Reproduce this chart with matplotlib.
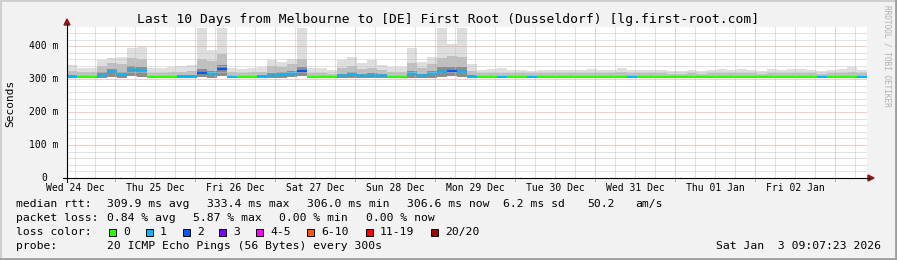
import numpy as np
import matplotlib.pyplot as plt
from matplotlib.patches import Rectangle, Polygon
from matplotlib.lines import Line2D
from matplotlib.transforms import blended_transform_factory

# data: 3-hour blocks starting Wed 24 Dec 09:36 (x in days from Wed 24 Dec 00:00)
start_day = 0.4
step_day = 0.125

med = [307, 306, 305, 309, 322, 312, 327, 325, 305, 305,
       305, 307, 307, 318, 316, 330, 306, 305, 305, 307,
       309, 312, 316, 324, 305, 305, 305, 309, 312, 310,
       310, 309, 305, 305, 314, 309, 314, 322, 325, 322,
       307, 305, 305, 306, 305, 305, 306, 305, 305, 305,
       305, 305, 305, 305, 305, 305, 306, 305, 305, 305,
       305, 305, 305, 305, 305, 305, 305, 305, 305, 305,
       305, 305, 305, 305, 305, 306, 305, 305, 305, 306]
low = [302, 302, 302, 303, 306, 303, 308, 306, 302, 302,
       302, 302, 302, 305, 304, 310, 302, 302, 302, 302,
       303, 304, 305, 308, 302, 302, 302, 303, 304, 303,
       303, 303, 302, 302, 304, 303, 304, 306, 308, 306,
       302, 302, 302, 302, 302, 302, 302, 302, 302, 302,
       302, 302, 302, 302, 302, 302, 302, 302, 302, 302,
       302, 302, 302, 302, 302, 302, 302, 302, 302, 302,
       302, 302, 302, 302, 302, 302, 302, 302, 302, 302]
dark = [312, 310, 309, 320, 332, 322, 340, 336, 309, 309,
        309, 311, 311, 330, 326, 342, 310, 309, 309, 311,
        318, 320, 325, 336, 309, 309, 308, 316, 320, 316,
        317, 315, 309, 309, 324, 316, 324, 336, 338, 336,
        311, 309, 309, 310, 309, 309, 309, 309, 309, 309,
        309, 309, 309, 309, 309, 310, 309, 309, 309, 309,
        309, 309, 309, 309, 309, 309, 309, 309, 309, 309,
        309, 309, 309, 309, 309, 309, 309, 309, 310, 309]
mid = [325, 320, 320, 340, 348, 345, 365, 360, 318, 318,
       320, 322, 325, 360, 355, 375, 320, 318, 320, 322,
       340, 338, 345, 360, 318, 318, 316, 335, 340, 332,
       335, 328, 320, 320, 350, 335, 345, 365, 370, 368,
       325, 318, 318, 319, 318, 317, 317, 318, 318, 317,
       318, 317, 319, 318, 318, 320, 318, 318, 318, 318,
       316, 316, 318, 316, 318, 319, 317, 319, 317, 316,
       318, 317, 318, 319, 318, 316, 317, 319, 322, 317]
top = [343, 333, 335, 358, 363, 368, 393, 398, 333, 333,
       338, 340, 343, 454, 388, 454, 333, 330, 335, 338,
       358, 352, 360, 454, 333, 333, 328, 358, 368, 348,
       358, 343, 338, 338, 393, 353, 368, 454, 405, 454,
       345, 328, 332, 334, 329, 327, 325, 329, 329, 327,
       329, 327, 332, 329, 329, 334, 329, 329, 329, 329,
       324, 324, 329, 325, 329, 332, 327, 332, 327, 325,
       330, 327, 330, 332, 329, 325, 327, 332, 338, 327]
loss = [1, 0, 0, 1, 1, 1, 1, 1, 0, 0,
        0, 1, 1, 2, 1, 2, 1, 0, 0, 1,
        1, 1, 1, 2, 0, 0, 0, 1, 1, 1,
        1, 1, 0, 0, 1, 1, 1, 1, 2, 1,
        1, 0, 0, 1, 0, 0, 1, 0, 0, 0,
        0, 0, 0, 0, 0, 0, 1, 0, 0, 0,
        0, 0, 0, 0, 0, 0, 0, 0, 0, 0,
        0, 0, 0, 0, 0, 1, 0, 0, 0, 1]

loss_colors = ['#26ff00', '#00b8ff', '#0059ff', '#7e00ff',
               '#ff00ff', '#ff5500', '#ff0000', '#a10000']
loss_labels = ['0', '1', '2', '3', '4-5', '6-10', '11-19', '20/20']
day_labels = ['Wed 24 Dec', 'Thu 25 Dec', 'Fri 26 Dec', 'Sat 27 Dec', 'Sun 28 Dec',
              'Mon 29 Dec', 'Tue 30 Dec', 'Wed 31 Dec', 'Thu 01 Jan', 'Fri 02 Jan']
y_ticks = [0, 100, 200, 300, 400]
y_labels = ['0', '100 m', '200 m', '300 m', '400 m']

title = 'Last 10 Days from Melbourne to [DE] First Root (Dusseldorf) [lg.first-root.com]'
rtt_parts = ['309.9 ms avg', '333.4 ms max', '306.0 ms min', '306.6 ms now',
             '6.2 ms sd', '50.2', 'am/s']
loss_parts = ['0.84 % avg', '5.87 % max', '0.00 % min', '0.00 % now']
probe_text = '20 ICMP Echo Pings (56 Bytes) every 300s'
stamp = 'Sat Jan  3 09:07:23 2026'

W, H = 897, 260
MONO = 'DejaVu Sans Mono'


def fx(x):
    return x / W


def fy(y):
    return 1 - y / H


fig = plt.figure(figsize=(W / 100, H / 100), dpi=100)
fig.patch.set_facecolor('#f2f2f2')
ax = fig.add_axes([fx(67), fy(178), 800 / W, 151 / H])
ax.set_facecolor('white')
ax.set_xlim(0.4, 10.4)
ax.set_ylim(0, 458)
for s in ax.spines.values():
    s.set_visible(False)
ax.set_xticks([])
ax.set_yticks([])

# smoke
n = len(med)
edges = start_day + np.arange(n + 1) * step_day


def ext(v):
    return np.append(v, v[-1])


ax.fill_between(edges, ext(low), ext(top), step='post', color='#dedede', lw=0, zorder=1)
ax.fill_between(edges, ext(low), ext(mid), step='post', color='#bfbfbf', lw=0, zorder=1.1)
ax.fill_between(edges, ext(low), ext(dark), step='post', color='#8c8c8c', lw=0, zorder=1.2)

# grid
for ms in range(20, 458, 20):
    c = '#e89a9a' if ms % 100 == 0 else '#c4c4c4'
    ax.axhline(ms, color=c, lw=0.72, ls=(0, (1, 1)), zorder=3)
for k in range(2, 42):
    d = k * 0.25
    if d <= 0.4 or d >= 10.4:
        continue
    c = '#e89a9a' if d == int(d) else '#c4c4c4'
    ax.axvline(d, color=c, lw=0.72, ls=(0, (1, 1)), zorder=3)

# median coloured by loss
ax.hlines(med, edges[:-1], edges[1:], colors=[loss_colors[l] for l in loss],
          linewidth=1.6, zorder=4)

# x tick labels
xt = blended_transform_factory(ax.transData, fig.transFigure)
for i, lab in enumerate(day_labels):
    fig.text(i + 0.5, fy(188), lab, transform=xt, ha='center', va='center',
             fontsize=7, family=MONO)
# day ticks below axis
for d in range(1, 11):
    fig.add_artist(Line2D([d, d], [fy(178), fy(181)], transform=xt,
                          color='#e89a9a', lw=0.72))

# y tick labels
yt = blended_transform_factory(fig.transFigure, ax.transData)
for v, lab in zip(y_ticks, y_labels):
    xr = 47 if v == 0 else 58
    fig.text(fx(xr), v, lab, transform=yt, ha='right', va='center',
             fontsize=7, family=MONO)

# axes with arrows
fig.add_artist(Line2D([fx(67), fx(67)], [fy(182), fy(24)], color='black', lw=0.8))
fig.add_artist(Line2D([fx(63), fx(869)], [fy(178), fy(178)], color='black', lw=0.8))
fig.add_artist(Polygon([[fx(64), fy(25)], [fx(70), fy(25)], [fx(67), fy(19)]],
                       closed=True, color='#8b1a1a'))
fig.add_artist(Polygon([[fx(868), fy(175)], [fx(868), fy(181)], [fx(874), fy(178)]],
                       closed=True, color='#8b1a1a'))

# title, axis label, watermark
fig.text(fx(448), fy(19), title, ha='center', va='center', fontsize=9.4, family=MONO)
fig.text(fx(10), fy(103), 'Seconds', rotation=90, ha='center', va='center',
         fontsize=8, family=MONO)
fig.text(fx(887), fy(5), 'RRDTOOL / TOBI OETIKER', rotation=270, ha='center', va='top',
         fontsize=5.6, family=MONO, color='#b0b0b0')

# legend rows
fs = 8.2
fig.text(fx(16), fy(204), 'median rtt:', ha='left', va='center', fontsize=fs, family=MONO)
for xp, t in zip([107, 207, 307, 407, 503, 587, 635], rtt_parts):
    fig.text(fx(xp), fy(204), t, ha='left', va='center', fontsize=fs, family=MONO)
fig.text(fx(16), fy(218), 'packet loss:', ha='left', va='center', fontsize=fs, family=MONO)
for xp, t in zip([107, 193, 279, 366], loss_parts):
    fig.text(fx(xp), fy(218), t, ha='left', va='center', fontsize=fs, family=MONO)
fig.text(fx(16), fy(232), 'loss color:', ha='left', va='center', fontsize=fs, family=MONO)
for xp, c, t in zip([109, 146, 183, 219, 256, 307, 366, 431], loss_colors, loss_labels):
    fig.add_artist(Rectangle((fx(xp), fy(236)), 7 / W, 7 / H, facecolor=c,
                             edgecolor='black', lw=0.7))
    fig.text(fx(xp + 14), fy(232), t, ha='left', va='center', fontsize=fs, family=MONO)
fig.text(fx(16), fy(246), 'probe:', ha='left', va='center', fontsize=fs, family=MONO)
fig.text(fx(107), fy(246), probe_text, ha='left', va='center', fontsize=fs, family=MONO)
fig.text(fx(881), fy(246), stamp, ha='right', va='center', fontsize=fs, family=MONO)

# frame shading
fig.add_artist(Line2D([0, 1], [fy(0.5), fy(0.5)], color='#cfcfcf', lw=1.4))
fig.add_artist(Line2D([fx(0.5), fx(0.5)], [0, 1], color='#cfcfcf', lw=1.4))
fig.add_artist(Line2D([0, 1], [fy(259), fy(259)], color='#9e9e9e', lw=2))
fig.add_artist(Line2D([fx(896), fx(896)], [0, 1], color='#9e9e9e', lw=2))

fig.savefig('out.png', dpi=100, facecolor=fig.get_facecolor())
